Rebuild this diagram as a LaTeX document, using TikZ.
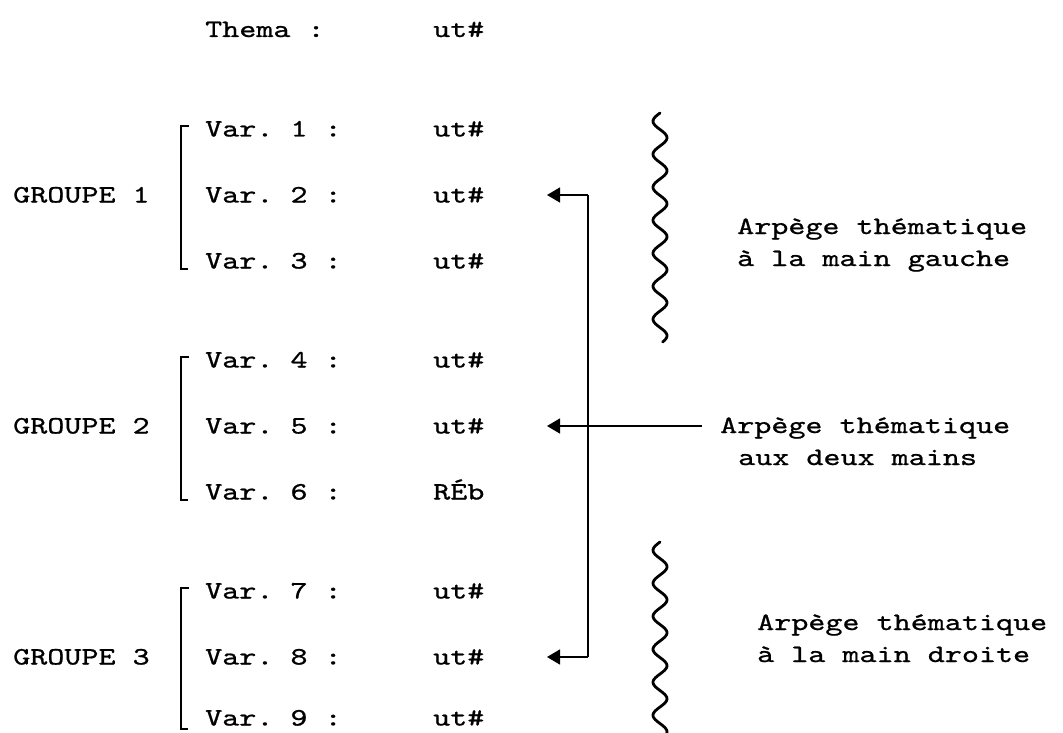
\documentclass[tikz,border=0pt]{standalone}
\usepackage{fontspec}
\newfontfamily\dotfont{lmmono10-regular.otf}[FakeStretch=1.3, FakeBold=0.8]
\usetikzlibrary{arrows.meta}
\tikzset{
  txt/.style={font=\dotfont\fontsize{25}{30}\selectfont\frenchspacing, inner sep=0pt, anchor=base west},
  brk/.style={line width=1.8pt},
  link/.style={line width=1.4pt},
  conn/.style={line width=1.4pt, -{Triangle[length=13pt,width=15pt]}},
  wave/.style={line width=2.8pt, line cap=round},
}
\begin{document}
\begin{tikzpicture}[x=1pt, y=-1pt]
\useasboundingbox (0,0) rectangle (1063,733);
\fill[white] (0,0) rectangle (1063,733);
% theme
\node[txt] (thema) at (205,37) {Thema :};
\node[txt] (thu) at (433,37) {ut\#};
% variations
\foreach \n/\c/\k in {1/129/ut\#, 2/195/ut\#, 3/261/ut\#, 4/360/ut\#, 5/426/ut\#, 6/492/RÉb, 7/591/ut\#, 8/657/ut\#, 9/718/ut\#}{
  \node[txt] (v\n) at (205,\c+7.5) {Var. \n\ :};
  \node[txt] (u\n) at (433,\c+7.5) {\k};
}
% groups
\node[txt] (g1) at (13,202.5) {GROUPE 1};
\node[txt] (g2) at (13,433.5) {GROUPE 2};
\node[txt] (g3) at (13,664.5) {GROUPE 3};
% brackets
\draw[brk] (189,126) -- (181,126) -- (181,269) -- (188,269);
\draw[brk] (189,357) -- (181,357) -- (181,500) -- (188,500);
\draw[brk] (189,588) -- (181,588) -- (181,729) -- (188,729);
% arrows
\coordinate (jt) at (588,195);
\coordinate (jb) at (588,657);
\coordinate (t2) at (547,195);
\coordinate (t5) at (547,426);
\coordinate (t8) at (547,657);
\coordinate (m) at (702,426);
\draw[link] (jt) -- (jb);
\draw[conn] (jt) -- (t2);
\draw[conn] (jb) -- (t8);
\draw[conn] (m) -- (t5);
% wavy lines
\draw[wave] plot[domain=0:229, samples=160, smooth] ({660-7*sin(\x*10.909)}, {113+\x});
\draw[wave] plot[domain=0:198, samples=140, smooth] ({660-7*sin(\x*10.909)}, {542+\x});
% labels
\node[txt] (lg1) at (737,234) {Arpège thématique};
\node[txt] (lg2) at (737,266) {à la main gauche};
\node[txt] (dm1) at (720,433) {Arpège thématique};
\node[txt] (dm2) at (738,465) {aux deux mains};
\node[txt] (rd1) at (757,630) {Arpège thématique};
\node[txt] (rd2) at (757,662) {à la main droite};
\end{tikzpicture}
\end{document}
